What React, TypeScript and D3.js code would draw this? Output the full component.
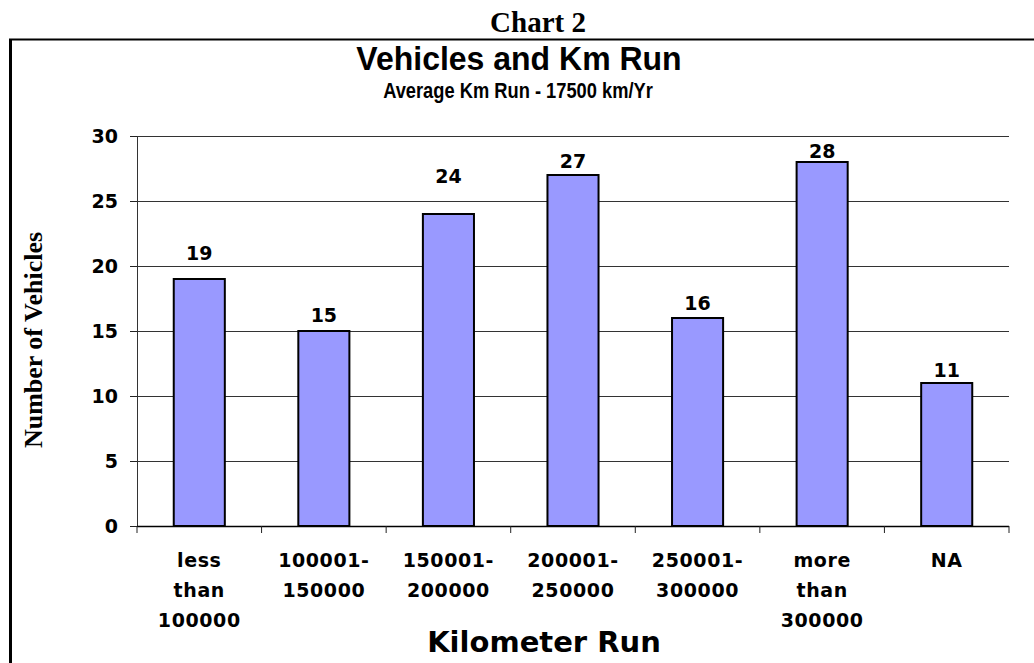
import { useEffect, useRef } from 'react'
import * as d3 from 'd3'

// data
const categories = [
  'less than 100000',
  '100001-150000',
  '150001-200000',
  '200001-250000',
  '250001-300000',
  'more than 300000',
  'NA',
]
const categoryLines = [
  ['less', 'than', '100000'],
  ['100001-', '150000'],
  ['150001-', '200000'],
  ['200001-', '250000'],
  ['250001-', '300000'],
  ['more', 'than', '300000'],
  ['NA'],
]
const vehicles = [19, 15, 24, 27, 16, 28, 11]
const yTicks = [0, 5, 10, 15, 20, 25, 30]

// hand-placed label gaps above each bar (px), as in the original
const labelGap = [19, 9, 31, 7, 8, 4, 6]

const W = 1034
const H = 663
const VERD = "'DejaVu Sans', Verdana, sans-serif"
const ARIAL = "'Liberation Sans', Arial, sans-serif"
const TIMES = "'Liberation Serif', 'Times New Roman', serif"

export default function App() {
  const ref = useRef<SVGSVGElement>(null)

  useEffect(() => {
    const svg = d3.select(ref.current)
    svg.selectAll('*').remove()

    const plot = { left: 137, right: 1009, top: 136, bottom: 526 }

    const x = d3.scaleBand()
      .domain(categories)
      .range([plot.left, plot.right])
      .paddingInner(0.59)
      .paddingOuter(0.295)
    const step = (plot.right - plot.left) / categories.length
    const y = d3.scaleLinear().domain([0, 30]).range([plot.bottom, plot.top])

    svg.append('rect').attr('width', W).attr('height', H).attr('fill', '#fff')

    // outer frame (top + left only visible)
    svg.append('line')
      .attr('x1', 9).attr('x2', W).attr('y1', 39.5).attr('y2', 39.5)
      .attr('stroke', '#000').attr('stroke-width', 2)
    svg.append('line')
      .attr('x1', 10.5).attr('x2', 10.5).attr('y1', 39).attr('y2', H)
      .attr('stroke', '#000').attr('stroke-width', 3)

    // headings
    svg.append('text')
      .attr('x', 538).attr('y', 32)
      .attr('text-anchor', 'middle')
      .style('font-family', TIMES).style('font-weight', 700).style('font-size', '29px')
      .text('Chart 2')
    svg.append('text')
      .attr('transform', 'translate(519,70) scale(1,1.05)')
      .attr('text-anchor', 'middle')
      .style('font-family', ARIAL).style('font-weight', 700).style('font-size', '32px')
      .text('Vehicles and Km Run')
    svg.append('text')
      .attr('transform', 'translate(518,98) scale(1,1.2)')
      .attr('text-anchor', 'middle')
      .style('font-family', ARIAL).style('font-weight', 700).style('font-size', '18.3px')
      .text('Average Km Run - 17500 km/Yr')

    // gridlines
    svg.append('g')
      .selectAll('line')
      .data(yTicks.filter(d => d > 0))
      .enter().append('line')
      .attr('x1', plot.left).attr('x2', plot.right)
      .attr('y1', d => Math.round(y(d)) + 0.5).attr('y2', d => Math.round(y(d)) + 0.5)
      .attr('stroke', '#333').attr('stroke-width', 1)

    // y axis
    const yAxis = svg.append('g')
    yAxis.append('line')
      .attr('x1', plot.left + 0.5).attr('x2', plot.left + 0.5)
      .attr('y1', plot.top).attr('y2', plot.bottom)
      .attr('stroke', '#333')
    yAxis.selectAll('line.tick')
      .data(yTicks)
      .enter().append('line')
      .attr('class', 'tick')
      .attr('x1', plot.left - 7).attr('x2', plot.left)
      .attr('y1', d => Math.round(y(d)) + 0.5).attr('y2', d => Math.round(y(d)) + 0.5)
      .attr('stroke', '#222')
    yAxis.selectAll('text')
      .data(yTicks)
      .enter().append('text')
      .attr('x', 118).attr('y', d => y(d) + 7)
      .attr('text-anchor', 'end')
      .style('font-family', VERD).style('font-weight', 700).style('font-size', '19px')
      .text(d => d)

    // bars
    svg.append('g')
      .selectAll('rect')
      .data(vehicles)
      .enter().append('rect')
      .attr('x', (d, i) => x(categories[i])!)
      .attr('y', d => y(d))
      .attr('width', x.bandwidth())
      .attr('height', d => plot.bottom - y(d))
      .attr('fill', '#9999ff')
      .attr('stroke', '#000')
      .attr('stroke-width', 2)

    // value labels
    svg.append('g')
      .selectAll('text')
      .data(vehicles)
      .enter().append('text')
      .attr('x', (d, i) => x(categories[i])! + x.bandwidth() / 2)
      .attr('y', (d, i) => y(d) - labelGap[i])
      .attr('text-anchor', 'middle')
      .style('font-family', VERD).style('font-weight', 700).style('font-size', '19px')
      .text(d => d)

    // x axis
    const xAxis = svg.append('g')
    xAxis.append('line')
      .attr('x1', plot.left).attr('x2', plot.right)
      .attr('y1', plot.bottom + 0.5).attr('y2', plot.bottom + 0.5)
      .attr('stroke', '#000').attr('stroke-width', 1.5)
    xAxis.selectAll('line.tick')
      .data(d3.range(categories.length + 1))
      .enter().append('line')
      .attr('class', 'tick')
      .attr('x1', i => plot.left + i * step).attr('x2', i => plot.left + i * step)
      .attr('y1', plot.bottom).attr('y2', plot.bottom + 7)
      .attr('stroke', '#222')

    const xl = xAxis.selectAll('text')
      .data(categories)
      .enter().append('text')
      .attr('x', d => x(d)! + x.bandwidth() / 2)
      .attr('y', plot.bottom + 41)
      .attr('text-anchor', 'middle')
      .style('font-family', VERD).style('font-weight', 700).style('font-size', '19px')
      .style('letter-spacing', '0.6px')
    xl.selectAll('tspan')
      .data((d, i) => categoryLines[i])
      .enter().append('tspan')
      .attr('x', function () { return (this.parentNode as SVGTextElement).getAttribute('x') })
      .attr('dy', (d, j) => (j === 0 ? 0 : 30))
      .text(d => d)

    // axis titles
    svg.append('text')
      .attr('x', 544).attr('y', 652)
      .attr('text-anchor', 'middle')
      .style('font-family', VERD).style('font-weight', 700).style('font-size', '29px')
      .text('Kilometer Run')
    svg.append('text')
      .attr('transform', `translate(42,340) rotate(-90)`)
      .attr('text-anchor', 'middle')
      .style('font-family', TIMES).style('font-weight', 700).style('font-size', '26px')
      .text('Number of Vehicles')
  }, [])

  return (
    <svg
      ref={ref}
      width={W}
      height={H}
      style={{ position: 'absolute', left: 0, top: 0, display: 'block' }}
    />
  )
}
